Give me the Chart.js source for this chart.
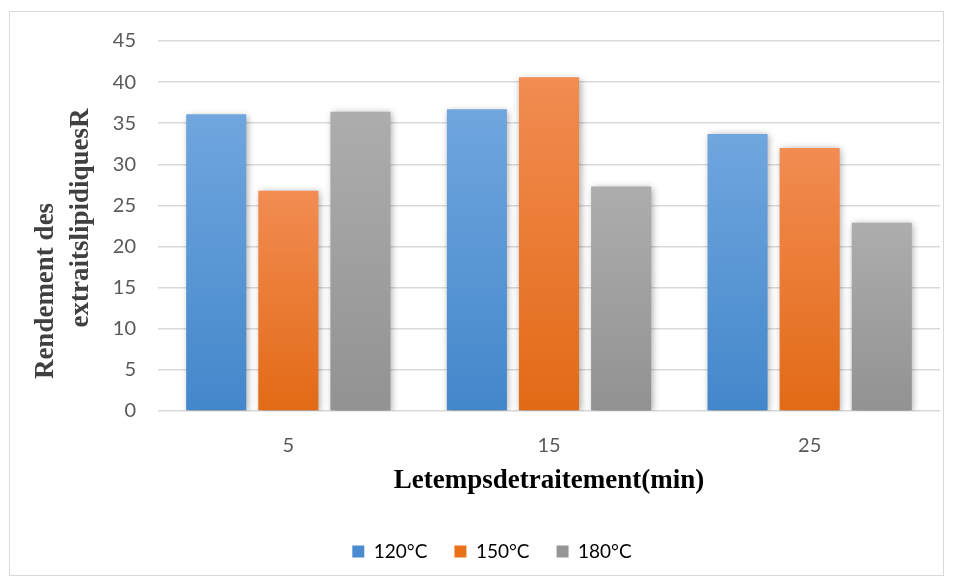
<!DOCTYPE html>
<html>
<head>
<meta charset="utf-8">
<script src="https://cdn.jsdelivr.net/npm/chart.js@4"></script>
<style>
  html, body { margin: 0; padding: 0; background: #fff; }
  #cadre {
    position: absolute; left: 9px; top: 11px; width: 935px; height: 565px;
    border: 1px solid #d9d9d9; box-sizing: border-box;
  }
  #zone { position: absolute; left: 0; top: 0; width: 954px; height: 581px; }
</style>
</head>
<body>
<div id="cadre"></div>
<div id="zone"><canvas id="graphique"></canvas></div>
<script>
// données
const temps = ["5", "15", "25"];
const series = ["120°C", "150°C", "180°C"];
const rend120 = [36.1, 36.7, 33.7];
const rend150 = [26.8, 40.6, 32.0];
const rend180 = [36.4, 27.3, 22.9];
const titreY = ["Rendement des", "extraitslipidiquesR"];
const titreX = "Letempsdetraitement(min)";

const couleurs = [
  { haut: "#70a6de", bas: "#4387cb", plein: "#4a8bd0" },
  { haut: "#f28c52", bas: "#e26a16", plein: "#e8711a" },
  { haut: "#adadad", bas: "#929292", plein: "#959595" }
];

function degrade(ctx, c) {
  const chart = ctx.chart;
  const y = chart.scales.y;
  if (!y || ctx.type !== "data") return c.plein;
  const haut = y.getPixelForValue(ctx.parsed.y);
  const bas = y.getPixelForValue(0);
  if (!isFinite(haut) || !isFinite(bas) || haut === bas) return c.plein;
  const g = chart.ctx.createLinearGradient(0, haut, 0, bas);
  g.addColorStop(0, c.haut);
  g.addColorStop(1, c.bas);
  return g;
}

// ombre douce sous les barres
const ombre = {
  id: "ombre",
  beforeDatasetsDraw(chart) {
    const ctx = chart.ctx;
    ctx.save();
    ctx.shadowColor = "rgba(0,0,0,0.35)";
    ctx.shadowBlur = 7;
    ctx.shadowOffsetX = 1.5;
    ctx.shadowOffsetY = 1.5;
  },
  afterDatasetsDraw(chart) {
    chart.ctx.restore();
  }
};

// titre vertical sur deux lignes, décalées comme dans l'original
const titreVertical = {
  id: "titreVertical",
  afterDraw(chart) {
    const ctx = chart.ctx;
    ctx.save();
    ctx.fillStyle = "#404040";
    ctx.font = "bold 27px 'Liberation Serif', 'Times New Roman', serif";
    ctx.textAlign = "center";
    ctx.textBaseline = "alphabetic";
    const lignes = [
      { x: 53, y: 291 },
      { x: 88, y: 218 }
    ];
    titreY.forEach((t, i) => {
      ctx.save();
      ctx.translate(lignes[i].x, lignes[i].y);
      ctx.rotate(-Math.PI / 2);
      ctx.fillText(t, 0, 0);
      ctx.restore();
    });
    ctx.restore();
  }
};

const valeurs = [rend120, rend150, rend180];

new Chart(document.getElementById("graphique"), {
  type: "bar",
  data: {
    labels: temps,
    datasets: series.map((nom, i) => ({
      label: nom,
      data: valeurs[i],
      backgroundColor: ctx => degrade(ctx, couleurs[i]),
      borderWidth: 0,
      categoryPercentage: 0.83,
      barPercentage: 0.833
    }))
  },
  options: {
    responsive: true,
    maintainAspectRatio: false,
    animation: false,
    layout: { padding: { left: 44, right: 14, top: 41, bottom: 10 } },
    plugins: {
      tooltip: { enabled: false },
      legend: {
        position: "bottom",
        labels: {
          color: "#595959",
          font: { family: "Lato", size: 19 },
          boxWidth: 12,
          boxHeight: 12,
          padding: 27,
          generateLabels: () => series.map((nom, i) => ({
            text: nom,
            fillStyle: couleurs[i].plein,
            strokeStyle: couleurs[i].plein,
            lineWidth: 0,
            datasetIndex: i
          }))
        }
      }
    },
    scales: {
      y: {
        min: 0,
        max: 45,
        ticks: {
          stepSize: 5,
          color: "#595959",
          font: { family: "Lato", size: 20 },
          padding: 22
        },
        grid: { color: "#d9d9d9", lineWidth: 1.5, drawTicks: false },
        border: { display: false },
        afterFit: s => { s.width = 114; }
      },
      x: {
        ticks: {
          color: "#595959",
          font: { family: "Lato", size: 20 },
          padding: 23
        },
        grid: { display: false, drawTicks: false },
        border: { display: false },
        title: {
          display: true,
          text: titreX,
          color: "#000",
          font: { family: "'Liberation Serif', 'Times New Roman', serif", size: 27, weight: "bold" },
          padding: { top: 8, bottom: 18 }
        },
        afterFit: s => { s.height = 104; }
      }
    }
  },
  plugins: [ombre, titreVertical]
});
</script>
</body>
</html>
